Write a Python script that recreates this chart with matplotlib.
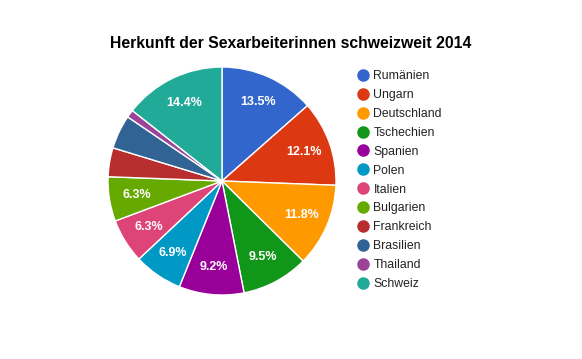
import matplotlib.pyplot as plt
from matplotlib.lines import Line2D

plt.rcParams['font.family'] = ['Liberation Sans', 'DejaVu Sans']

laender = ['Rumänien', 'Ungarn', 'Deutschland', 'Tschechien', 'Spanien', 'Polen',
           'Italien', 'Bulgarien', 'Frankreich', 'Brasilien', 'Thailand', 'Schweiz']
anteile = [13.5, 12.1, 11.8, 9.5, 9.2, 6.9, 6.3, 6.3, 4.1, 4.8, 1.1, 14.4]
farben = ['#3366cc', '#dc3912', '#ff9900', '#109618', '#990099', '#0099c6',
          '#dd4477', '#66aa00', '#b82e2e', '#316395', '#994499', '#22aa99']

W, H = 582, 359
fig = plt.figure(figsize=(W / 100, H / 100), dpi=100)
cx, cy, r = 222, 181, 114
ax = fig.add_axes([(cx - r) / W, (H - cy - r) / H, 2 * r / W, 2 * r / H])


def pct_label(p):
    return f'{p:.1f}%' if p >= 5 else ''


wedges, texts, autotexts = ax.pie(anteile, colors=farben, startangle=90, counterclock=False,
                                  autopct=pct_label, pctdistance=0.76,
                                  wedgeprops=dict(edgecolor='white', linewidth=1))
for t in autotexts:
    t.set_color('white')
    t.set_fontsize(9)
    t.set_fontweight('bold')
ax.set_xlim(-1, 1)
ax.set_ylim(-1, 1)
ax.set_aspect('equal')

fig.text(291 / W, 1 - 44 / H, 'Herkunft der Sexarbeiterinnen schweizweit 2014',
         ha='center', va='center', fontsize=11.3, fontweight='bold', color='#000000')

handles = [Line2D([], [], marker='o', linestyle='', markersize=8,
                  markerfacecolor=c, markeredgecolor=c) for c in farben]
fig.legend(handles, laender, loc='upper left', bbox_to_anchor=(352 / W, 1 - 64 / H),
           frameon=False, fontsize=8.8, handlelength=0.8, handletextpad=0.45,
           labelspacing=0.565, borderpad=0, labelcolor='#222222')

fig.savefig('out.png', dpi=100)
